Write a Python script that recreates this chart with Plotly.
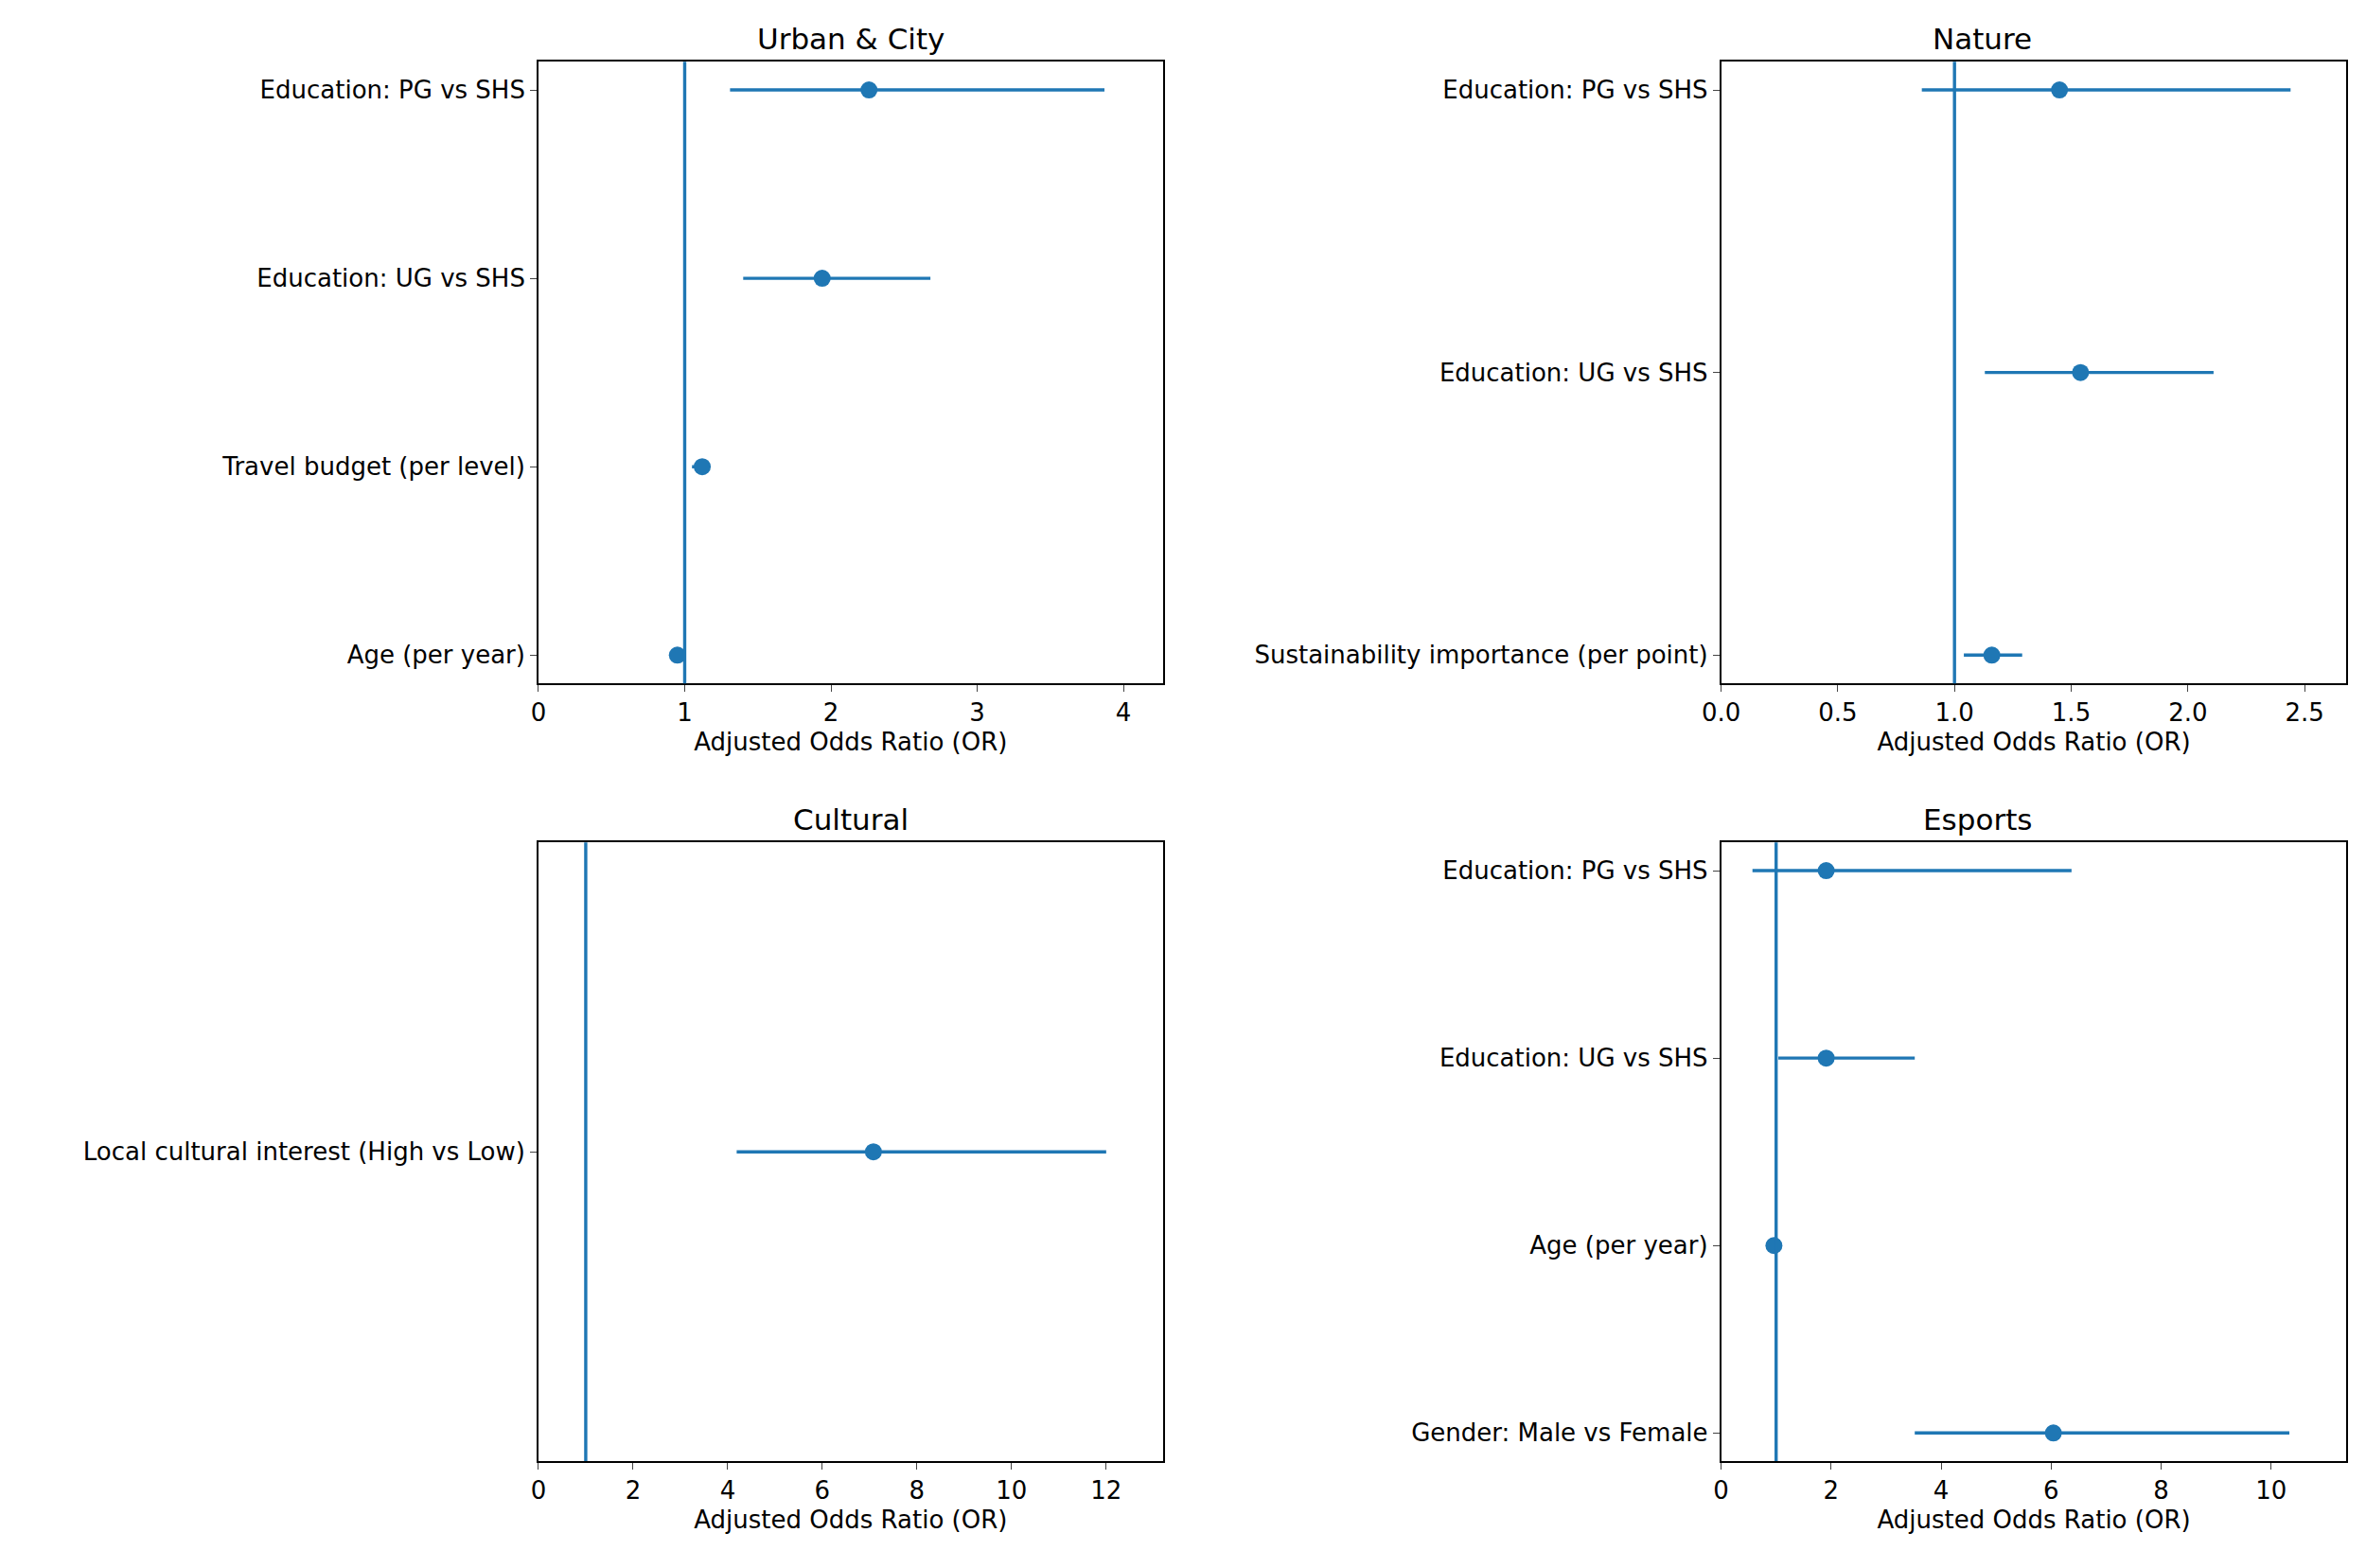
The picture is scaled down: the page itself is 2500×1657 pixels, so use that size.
import plotly.graph_objects as go
from plotly.subplots import make_subplots

BLUE = "#1f77b4"

urban_labels = ["Education: PG vs SHS", "Education: UG vs SHS", "Travel budget (per level)", "Age (per year)"]
urban_or = [2.26, 1.94, 1.12, 0.95]
urban_lo = [1.31, 1.40, 1.05, 0.92]
urban_hi = [3.87, 2.68, 1.17, 0.97]

nature_labels = ["Education: PG vs SHS", "Education: UG vs SHS", "Sustainability importance (per point)"]
nature_or = [1.45, 1.54, 1.16]
nature_lo = [0.86, 1.13, 1.04]
nature_hi = [2.44, 2.11, 1.29]

cultural_labels = ["Local cultural interest (High vs Low)"]
cultural_or = [7.08]
cultural_lo = [4.19]
cultural_hi = [12.0]

esports_labels = ["Education: PG vs SHS", "Education: UG vs SHS", "Age (per year)", "Gender: Male vs Female"]
esports_or = [1.91, 1.91, 0.96, 6.04]
esports_lo = [0.57, 1.04, 0.90, 3.52]
esports_hi = [6.37, 3.52, 1.00, 10.33]

panels = [
    ("Urban & City", urban_labels, urban_or, urban_lo, urban_hi, [0, 4.27], [0, 1, 2, 3, 4], ["0", "1", "2", "3", "4"]),
    ("Nature", nature_labels, nature_or, nature_lo, nature_hi, [0, 2.68], [0, 0.5, 1, 1.5, 2, 2.5], ["0.0", "0.5", "1.0", "1.5", "2.0", "2.5"]),
    ("Cultural", cultural_labels, cultural_or, cultural_lo, cultural_hi, [0, 13.2], [0, 2, 4, 6, 8, 10, 12], ["0", "2", "4", "6", "8", "10", "12"]),
    ("Esports", esports_labels, esports_or, esports_lo, esports_hi, [0, 11.37], [0, 2, 4, 6, 8, 10], ["0", "2", "4", "6", "8", "10"]),
]

fig = make_subplots(rows=2, cols=2)
domains_x = [[0.2178, 0.484], [0.7219, 0.9885]]
domains_y = [[0.569, 0.9655], [0.073, 0.4675]]
font = dict(family="DejaVu Sans", size=26, color="black")

for i, (title, labels, ors, lo, hi, xr, tv, tt) in enumerate(panels):
    r, c = i // 2 + 1, i % 2 + 1
    n = len(labels)
    ys = [n - 1 - k for k in range(n)]
    fig.add_trace(go.Scatter(
        x=ors, y=ys, mode="markers",
        marker=dict(size=18, color=BLUE),
        error_x=dict(type="data", symmetric=False,
                     array=[h - o for h, o in zip(hi, ors)],
                     arrayminus=[o - l for o, l in zip(ors, lo)],
                     width=0, thickness=3.4, color=BLUE),
        showlegend=False), row=r, col=c)
    ax = i + 1
    sfx = "" if ax == 1 else str(ax)
    if n > 1:
        pad = 0.05 * (n - 1)
        yr = [-pad, n - 1 + pad]
    else:
        yr = [-0.5, 0.5]
    fig.update_xaxes(range=xr, tickvals=tv, ticktext=tt, domain=domains_x[c - 1],
                     showline=True, mirror=True, linecolor="black", linewidth=1.6,
                     ticks="outside", ticklen=7, showgrid=False, zeroline=False,
                     title=dict(text="Adjusted Odds Ratio (OR)", font=font, standoff=8),
                     tickfont=font, row=r, col=c)
    fig.update_yaxes(range=yr, tickvals=ys, ticktext=labels, domain=domains_y[r - 1],
                     showline=True, mirror=True, linecolor="black", linewidth=1.6,
                     ticks="outside", ticklen=7, showgrid=False, zeroline=False,
                     tickfont=font, row=r, col=c)
    fig.add_shape(type="line", x0=1, x1=1, y0=0, y1=1, xref="x" + sfx, yref="y" + sfx + " domain",
                  line=dict(color=BLUE, width=3.4))
    xd, yd = domains_x[c - 1], domains_y[r - 1]
    fig.add_annotation(text=title, x=(xd[0] + xd[1]) / 2, y=yd[1], xref="paper", yref="paper",
                       yanchor="bottom", showarrow=False, yshift=4,
                       font=dict(family="DejaVu Sans", size=31, color="black"))

fig.update_layout(width=2500, height=1657, plot_bgcolor="white", paper_bgcolor="white",
                  margin=dict(l=0, r=0, t=0, b=0))
fig.write_html("out.html")
